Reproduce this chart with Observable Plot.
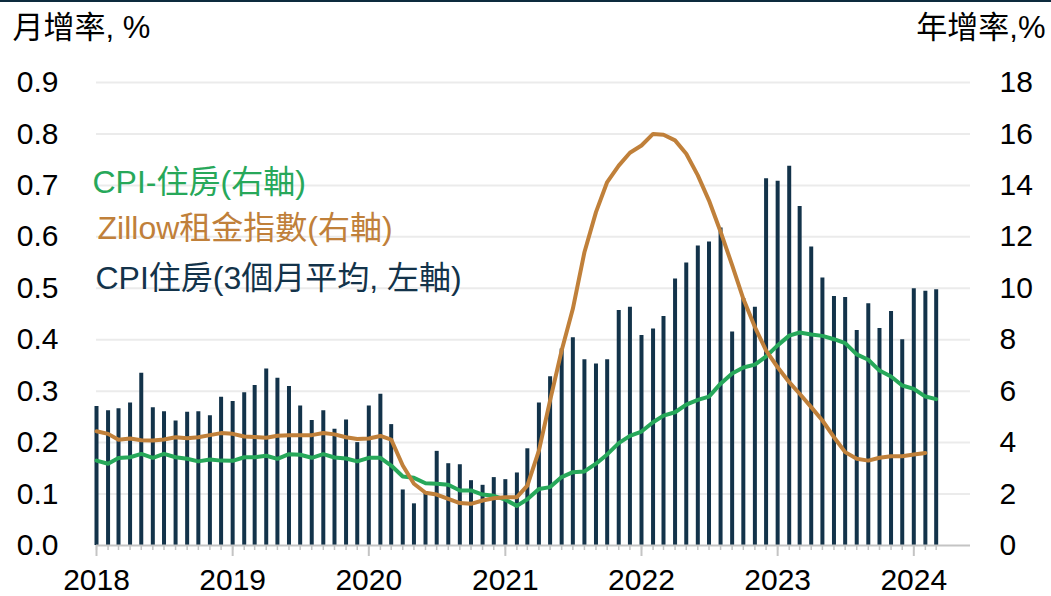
<!DOCTYPE html>
<html>
<head>
<meta charset="utf-8">
<script src="https://cdn.jsdelivr.net/npm/d3@7"></script>
<script src="https://cdn.jsdelivr.net/npm/@observablehq/plot@0.6"></script>
<style>
  html, body { margin: 0; padding: 0; background: #fff; }
  #wrap { position: relative; width: 1051px; height: 596px; overflow: hidden; }
  #topline { position: absolute; left: 0; top: 0; width: 1051px; height: 2px; background: #0d2b3e; }
</style>
</head>
<body>
<div id="wrap"><div id="topline"></div></div>
<script>
// Monthly categories: Jan 2018 – Mar 2024
const months = d3.utcMonth.range(new Date(Date.UTC(2018, 0, 1)), new Date(Date.UTC(2024, 3, 1)));
const yearTicks = d3.utcYear.range(new Date(Date.UTC(2018, 0, 1)), new Date(Date.UTC(2025, 0, 1)));

// CPI shelter, 3-month average of monthly change (left axis, %)
const cpiShelterMoM3 = [
  0.270, 0.262, 0.266, 0.277, 0.335, 0.268, 0.260, 0.242, 0.259, 0.260, 0.252, 0.288,
  0.280, 0.297, 0.311, 0.343, 0.325, 0.309, 0.271, 0.243, 0.262, 0.226, 0.244, 0.200,
  0.271, 0.294, 0.235, 0.108, 0.081, 0.105, 0.183, 0.159, 0.157, 0.126, 0.117, 0.132,
  0.128, 0.141, 0.188, 0.277, 0.328, 0.382, 0.404, 0.361, 0.353, 0.361, 0.457, 0.463,
  0.408, 0.421, 0.445, 0.518, 0.549, 0.582, 0.590, 0.617, 0.415, 0.480, 0.463, 0.713,
  0.708, 0.737, 0.659, 0.580, 0.520, 0.484, 0.482, 0.418, 0.470, 0.422, 0.455, 0.400,
  0.499, 0.494, 0.497
];

// CPI shelter, year-over-year (right axis, %)
const cpiShelterYoY = [
  3.30, 3.18, 3.40, 3.43, 3.56, 3.41, 3.56, 3.43, 3.37, 3.27, 3.34, 3.30,
  3.29, 3.43, 3.43, 3.49, 3.37, 3.55, 3.53, 3.41, 3.55, 3.42, 3.38, 3.27,
  3.41, 3.41, 3.11, 2.68, 2.63, 2.42, 2.40, 2.36, 2.14, 2.14, 1.98, 1.93,
  1.78, 1.54, 1.80, 2.20, 2.27, 2.66, 2.85, 2.88, 3.18, 3.54, 3.98, 4.26,
  4.43, 4.79, 5.05, 5.18, 5.48, 5.66, 5.79, 6.29, 6.69, 6.92, 7.03, 7.35,
  7.78, 8.16, 8.28, 8.20, 8.15, 8.02, 7.87, 7.43, 7.22, 6.80, 6.57, 6.22,
  6.09, 5.79, 5.69
];

// Zillow observed rent index, year-over-year (right axis, %), Jan 2018 – Feb 2024
const zillowYoY = [
  4.44, 4.34, 4.11, 4.16, 4.09, 4.08, 4.12, 4.21, 4.17, 4.21, 4.29, 4.37,
  4.34, 4.24, 4.22, 4.19, 4.27, 4.29, 4.29, 4.29, 4.37, 4.32, 4.21, 4.14,
  4.16, 4.26, 4.12, 3.11, 2.40, 2.05, 1.98, 1.81, 1.65, 1.62, 1.75, 1.84,
  1.88, 1.88, 2.33, 3.69, 5.64, 7.58, 9.20, 11.40, 12.96, 14.13, 14.77, 15.27,
  15.55, 16.00, 15.97, 15.75, 15.23, 14.39, 13.41, 12.20, 10.90, 9.59, 8.49, 7.58,
  6.93, 6.35, 5.90, 5.38, 4.86, 4.21, 3.63, 3.37, 3.30, 3.41, 3.47, 3.47,
  3.54, 3.60
];

const leftTicks = d3.range(0, 10).map(i => i / 10);
const RATIO = 20; // right axis = left axis * 20

const bars = months.map((d, i) => ({date: d, v: cpiShelterMoM3[i]}));
const green = months.map((d, i) => ({date: d, v: cpiShelterYoY[i]}));
const orange = zillowYoY.map((v, i) => ({date: months[i], v}));

const FONT = '"Liberation Sans", Arial, "Noto Sans CJK TC", sans-serif';
const NAVY = "#13334a", GREEN = "#27a85a", ORANGE = "#c0803a";

const chart = Plot.plot({
  width: 1051,
  height: 596,
  marginLeft: 96,
  marginRight: 81,
  marginTop: 82,
  marginBottom: 51,
  style: {fontFamily: FONT, fontSize: "30px", color: "#000", background: "transparent", overflow: "visible"},
  x: {type: "utc", domain: [new Date(Date.UTC(2018, 0, 1)), new Date(Date.UTC(2024, 5, 1))], axis: null},
  y: {domain: [0, 0.9], axis: null},
  marks: [
    Plot.gridY(leftTicks.slice(1), {stroke: "#ebebeb", strokeOpacity: 1, strokeWidth: 2}),
    Plot.axisY(leftTicks, {anchor: "left", tickSize: 0, tickPadding: 38, tickFormat: d3.format(".1f"), label: null, fontSize: 30, fill: "#000"}),
    Plot.axisY(leftTicks, {anchor: "right", tickSize: 0, tickPadding: 29, tickFormat: d => String(Math.round(d * RATIO)), label: null, fontSize: 30, fill: "#000"}),
    Plot.ruleX(bars, {x: "date", y1: 0, y2: "v", stroke: NAVY, strokeWidth: 4}),
    Plot.ruleY([0], {stroke: "#c4c4c4", strokeWidth: 2}),
    Plot.axisX(months, {tickSize: 5, tickFormat: () => "", stroke: "#c4c4c4", strokeWidth: 1.5, label: null}),
    Plot.axisX(yearTicks, {tickSize: 11, tickPadding: 12, tickFormat: d3.utcFormat("%Y"), stroke: "#c4c4c4", strokeWidth: 2, fill: "#000", fontSize: 30, label: null}),
    Plot.line(green, {x: "date", y: d => d.v / RATIO, stroke: GREEN, strokeWidth: 4}),
    Plot.line(orange, {x: "date", y: d => d.v / RATIO, stroke: ORANGE, strokeWidth: 4}),
    Plot.text(["月增率, %"], {frameAnchor: "top-left", dx: -84, dy: -54, textAnchor: "start", lineAnchor: "middle", fontSize: 31, fill: "#000"}),
    Plot.text(["年增率,%"], {frameAnchor: "top-right", dx: 75, dy: -54, textAnchor: "end", lineAnchor: "middle", fontSize: 31, fill: "#000"}),
    Plot.text(["CPI-住房(右軸)"], {frameAnchor: "top-left", dx: -4, dy: 100, textAnchor: "start", lineAnchor: "middle", fontSize: 32, fill: GREEN}),
    Plot.text(["Zillow租金指數(右軸)"], {frameAnchor: "top-left", dx: 1, dy: 146, textAnchor: "start", lineAnchor: "middle", fontSize: 32, fill: ORANGE}),
    Plot.text(["CPI住房(3個月平均, 左軸)"], {frameAnchor: "top-left", dx: -1, dy: 196, textAnchor: "start", lineAnchor: "middle", fontSize: 32, fill: NAVY})
  ]
});
document.getElementById("wrap").appendChild(chart);
</script>
</body>
</html>
